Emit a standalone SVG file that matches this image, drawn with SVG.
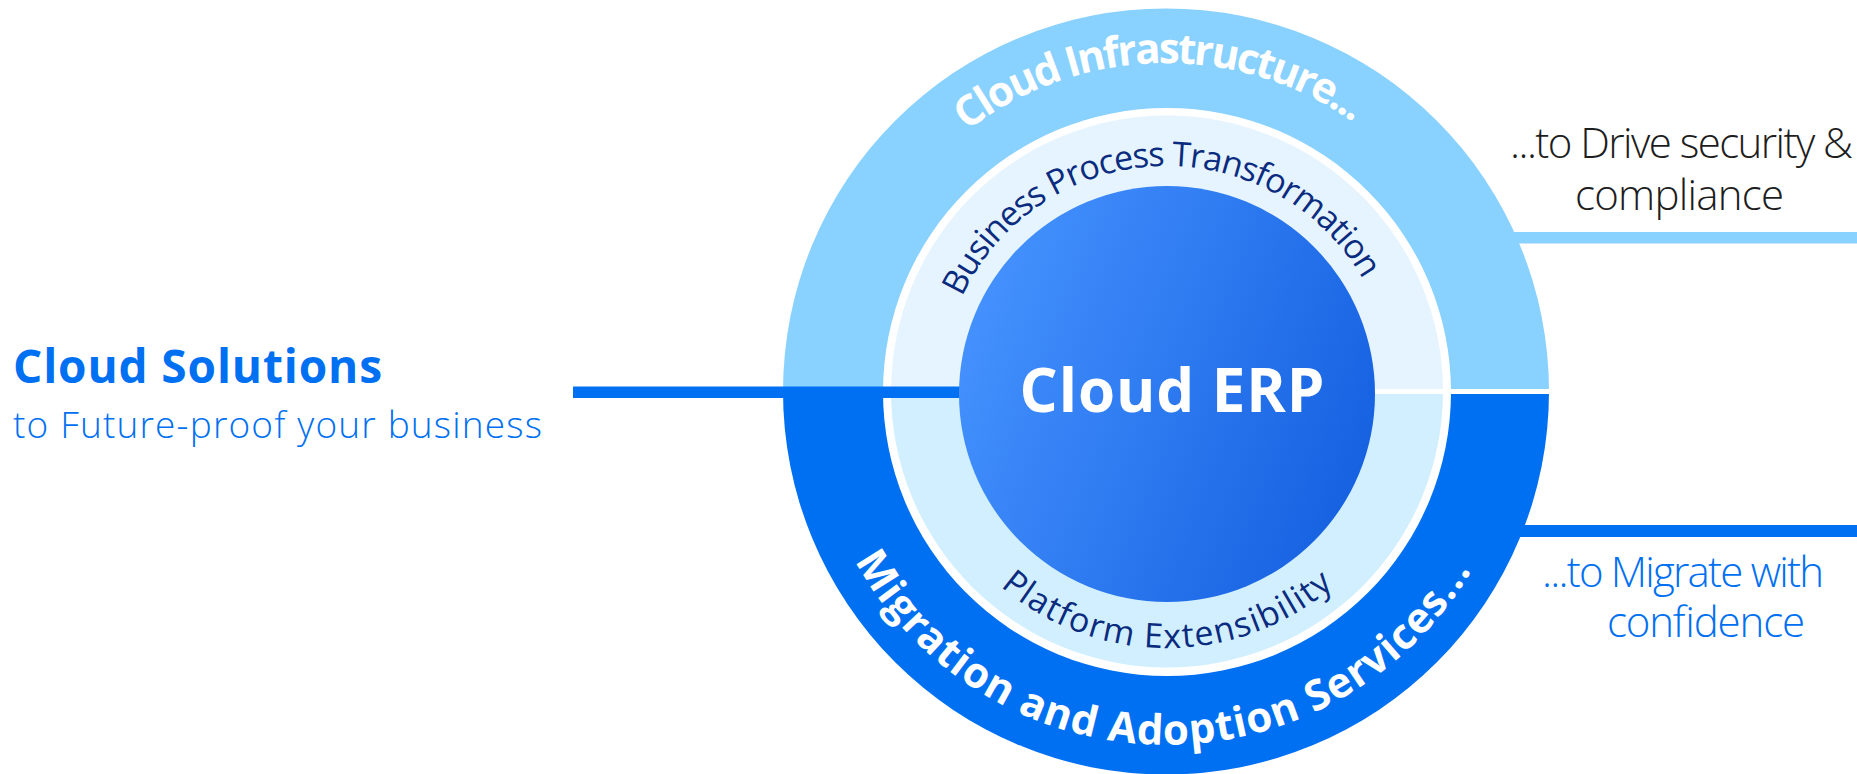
<svg xmlns="http://www.w3.org/2000/svg" width="1857" height="774" viewBox="0 0 1857 774">
<style>
.bold{font-family:"Open Sans",Lato,"Liberation Sans",sans-serif;font-weight:700}
.light{font-family:"Open Sans",Lato,"Liberation Sans",sans-serif;font-weight:300}
.ring{font-family:"Open Sans",Lato,"Liberation Sans",sans-serif;font-weight:400;fill:#0A2B7E;font-size:34px}
.outer{font-family:"Open Sans",Lato,"Liberation Sans",sans-serif;font-weight:700;fill:#FFFFFF;font-size:42px}
</style>
<defs>
<linearGradient id="erpGrad" x1="0" y1="0.3" x2="1" y2="0.7">
<stop offset="0" stop-color="#4592FF"/>
<stop offset="1" stop-color="#1560E0"/>
</linearGradient>
<path id="pOuterTop" d="M 839 390 A 327 327 0 0 1 1493 390"/>
<path id="pOuterBottom" d="M 811 390 A 355 355 0 0 0 1521 390"/>
<path id="pMidTop" d="M 941 392 A 226 226 0 0 1 1393 392"/>
<path id="pMidBottom" d="M 911 392 A 256 256 0 0 0 1423 392"/>
</defs>
<rect width="1857" height="774" fill="#FFFFFF"/>

<g id="connectors">
<rect x="1500" y="232" width="357" height="11.5" fill="#89D1FF"/>
<rect x="1500" y="525" width="357" height="12" fill="#0070F2"/>
</g>

<g id="outer-ring">
<path d="M 783 391.5 A 383 383 0 0 1 1549 391.5 Z" fill="#89D1FF"/>
<path d="M 783 391.5 A 383 383 0 0 0 1549 391.5 Z" fill="#0070F2"/>
</g>

<g id="middle-ring">
<circle cx="1167" cy="392" r="284" fill="#FFFFFF"/>
<path d="M 891 391.5 A 276 276 0 0 1 1443 391.5 Z" fill="#E5F4FF"/>
<path d="M 891 391.5 A 276 276 0 0 0 1443 391.5 Z" fill="#D1EFFF"/>
</g>

<rect x="783" y="389" width="766" height="5" fill="#FFFFFF"/>

<g id="left-connector">
<rect x="573" y="386.5" width="387" height="11.5" fill="#0070F2"/>
</g>

<g id="cloud-erp">
<circle cx="1167" cy="394" r="208" fill="url(#erpGrad)"/>
<text class="bold" x="1172" y="412" font-size="60" fill="#FFFFFF" text-anchor="middle" textLength="305" lengthAdjust="spacing">Cloud ERP</text>
</g>

<g id="cloud-infrastructure">
<text class="outer"><textPath href="#pOuterTop" startOffset="49.3%" text-anchor="middle" textLength="414" lengthAdjust="spacing">Cloud Infrastructure...</textPath></text>
</g>
<g id="migration-services">
<text class="outer"><textPath href="#pOuterBottom" startOffset="49.5%" text-anchor="middle" textLength="747" lengthAdjust="spacing">Migration and Adoption Services...</textPath></text>
</g>
<g id="business-process">
<text class="ring"><textPath href="#pMidTop" startOffset="48.6%" text-anchor="middle" textLength="494" lengthAdjust="spacing">Business Process Transformation</textPath></text>
</g>
<g id="platform-extensibility">
<text class="ring"><textPath href="#pMidBottom" startOffset="50%" text-anchor="middle" textLength="363" lengthAdjust="spacing">Platform Extensibility</textPath></text>
</g>

<g id="cloud-solutions">
<text class="bold" x="13" y="383" font-size="46" fill="#0070F2" textLength="369" lengthAdjust="spacing">Cloud Solutions</text>
<text class="light" x="13" y="438" font-size="37" fill="#0070F2" textLength="529" lengthAdjust="spacing">to Future-proof your business</text>
</g>

<g id="drive-security">
<text class="light" x="1681.5" y="158" font-size="42" fill="#1D1D1D" text-anchor="middle" textLength="343" lengthAdjust="spacing">...to Drive security &amp;</text>
<text class="light" x="1679.5" y="210" font-size="42" fill="#1D1D1D" text-anchor="middle" textLength="209" lengthAdjust="spacing">compliance</text>
</g>

<g id="migrate-confidence">
<text class="light" x="1683" y="587" font-size="42" fill="#0070F2" text-anchor="middle" textLength="282" lengthAdjust="spacing">...to Migrate with</text>
<text class="light" x="1706" y="637" font-size="42" fill="#0070F2" text-anchor="middle" textLength="198" lengthAdjust="spacing">confidence</text>
</g>
</svg>
